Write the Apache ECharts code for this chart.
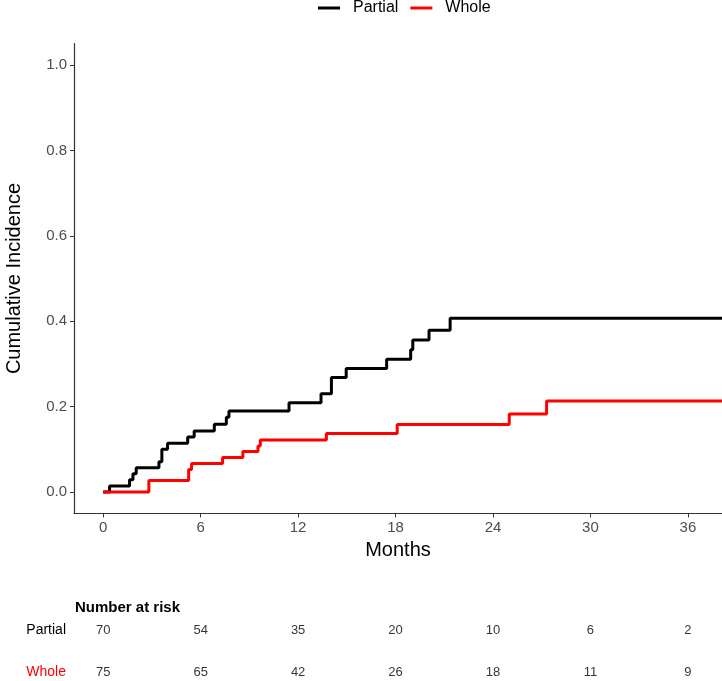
<!DOCTYPE html>
<html>
<head>
<meta charset="utf-8">
<script src="https://cdn.jsdelivr.net/npm/echarts@6/dist/echarts.min.js"></script>
<style>html,body{margin:0;padding:0;background:#fff}#c{width:722px;height:681px}</style>
</head>
<body>
<div id="c"></div>
<script>
// Step curve data (months, cumulative incidence)
var partialTime = [0, 0.39, 1.62, 1.83, 2.03, 3.43, 3.61, 3.96, 5.2, 5.6, 6.84, 7.58, 7.74, 11.44, 13.41, 14.05, 14.96, 17.45, 18.93, 19.06, 20.06, 21.36, 38.2];
var partialCI   = [0, 0.014, 0.029, 0.043, 0.057, 0.071, 0.1, 0.114, 0.129, 0.143, 0.159, 0.175, 0.19, 0.209, 0.23, 0.268, 0.289, 0.311, 0.333, 0.356, 0.379, 0.407, 0.407];
var wholeTime = [0, 2.81, 5.26, 5.44, 7.35, 8.6, 9.53, 9.67, 13.74, 18.1, 25.0, 27.3, 38.2];
var wholeCI   = [0, 0.027, 0.053, 0.067, 0.081, 0.095, 0.108, 0.122, 0.137, 0.158, 0.183, 0.213, 0.213];
// Axis ticks
var xTicks = [0, 6, 12, 18, 24, 30, 36];
var yTicks = [0, 0.2, 0.4, 0.6, 0.8, 1.0];
// Number at risk table
var riskTimes = [0, 6, 12, 18, 24, 30, 36];
var partialRisk = [70, 54, 35, 20, 10, 6, 2];
var wholeRisk = [75, 65, 42, 26, 18, 11, 9];
var groups = ['Partial', 'Whole'];

function zip(a, b) { return a.map(function (v, i) { return [v, b[i]]; }); }

var FONT = 'Liberation Sans, Arial, Helvetica, sans-serif';
var chart = echarts.init(document.getElementById('c'));
var riskData = [];
riskTimes.forEach(function (t, i) { riskData.push([t, 1, partialRisk[i]]); });
riskTimes.forEach(function (t, i) { riskData.push([t, 0, wholeRisk[i]]); });

chart.setOption({
  animation: false,
  textStyle: { fontFamily: FONT },
  title: {
    text: 'Number at risk', left: 75, top: 600, padding: 0,
    textStyle: { fontSize: 15, fontWeight: 'bold', color: '#000', fontFamily: FONT }
  },
  legend: {
    top: 0, left: 318, padding: 0, itemWidth: 22, itemHeight: 3, itemGap: 12,
    icon: 'rect',
    textStyle: { fontSize: 16, color: '#000', fontFamily: FONT, padding: [0, 0, 0, 8] },
    data: groups
  },
  grid: [
    { left: 74, right: 0, top: 43.6, bottom: 167.6, containLabel: false, outerBoundsMode: 'none' },
    { left: 74, right: 0, top: 630, bottom: 9, containLabel: false, outerBoundsMode: 'none' }
  ],
  xAxis: [
    {
      type: 'value', gridIndex: 0, min: -1.8, max: 38.1,
      name: 'Months', nameLocation: 'middle', nameGap: 23,
      nameTextStyle: { fontSize: 20, color: '#000', fontFamily: FONT },
      axisLine: { onZero: false, lineStyle: { color: '#333', width: 1.2 } },
      axisTick: { show: true, length: 4, customValues: xTicks, lineStyle: { color: '#333' } },
      axisLabel: { customValues: xTicks, fontSize: 15, color: '#4d4d4d', margin: 7, fontFamily: FONT },
      splitLine: { show: false }
    },
    {
      type: 'value', gridIndex: 1, min: -1.8, max: 38.1, show: false
    }
  ],
  yAxis: [
    {
      type: 'value', gridIndex: 0, min: -0.05, max: 1.05,
      name: 'Cumulative Incidence', nameLocation: 'middle', nameGap: 50,
      nameTextStyle: { fontSize: 20, color: '#000', fontFamily: FONT },
      axisLine: { show: true, onZero: false, lineStyle: { color: '#333', width: 1.2 } },
      axisTick: { show: true, length: 4, customValues: yTicks, lineStyle: { color: '#333' } },
      axisLabel: {
        customValues: yTicks, fontSize: 15, color: '#4d4d4d', margin: 7, fontFamily: FONT,
        formatter: function (v) { return v.toFixed(1); }
      },
      splitLine: { show: false }
    },
    {
      type: 'value', gridIndex: 1, min: 0, max: 1,
      axisLine: { show: false }, axisTick: { show: false }, splitLine: { show: false },
      axisLabel: {
        customValues: [0, 1], margin: 8,
        formatter: function (v) { return v === 1 ? '{p|' + groups[0] + '}' : '{w|' + groups[1] + '}'; },
        rich: {
          p: { fontSize: 14, color: '#000', fontFamily: FONT },
          w: { fontSize: 14, color: '#ff0000', fontFamily: FONT }
        }
      }
    }
  ],
  series: [
    {
      name: 'Partial', type: 'line', step: 'end', xAxisIndex: 0, yAxisIndex: 0,
      data: zip(partialTime, partialCI), showSymbol: false, symbol: 'none',
      color: '#000', lineStyle: { color: '#000', width: 3 }, clip: true, z: 2
    },
    {
      name: 'Whole', type: 'line', step: 'end', xAxisIndex: 0, yAxisIndex: 0,
      data: zip(wholeTime, wholeCI), showSymbol: false, symbol: 'none',
      color: '#ff0000', lineStyle: { color: '#ff0000', width: 3 }, clip: true, z: 3
    },
    {
      type: 'scatter', xAxisIndex: 1, yAxisIndex: 1, symbolSize: 0, silent: true,
      data: riskData,
      label: {
        show: true, position: 'inside', fontSize: 13, color: '#000', fontFamily: FONT,
        formatter: function (p) { return String(p.value[2]); }
      }
    }
  ]
});
</script>
</body>
</html>
